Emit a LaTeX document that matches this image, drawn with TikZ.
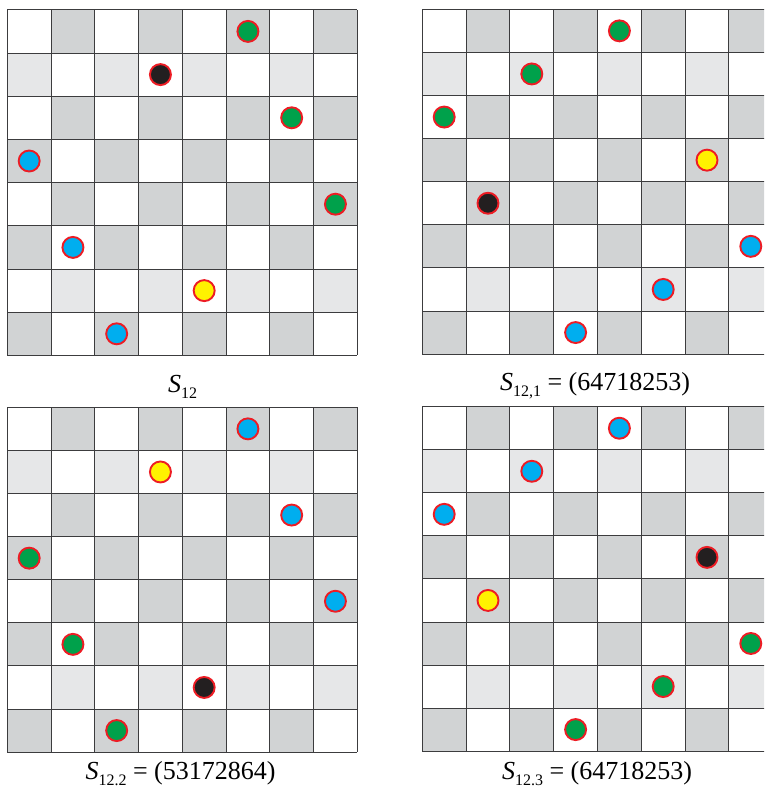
\documentclass[tikz,border=0pt]{standalone}
\usepackage{fontspec}
\setmainfont{Liberation Serif}
\usetikzlibrary{positioning}
\definecolor{sqdark}{RGB}{209,211,212}
\definecolor{sqlight}{RGB}{230,231,232}
\definecolor{gridgray}{RGB}{60,60,62}
\definecolor{ringred}{RGB}{237,28,36}
\definecolor{pgreen}{RGB}{0,161,75}
\definecolor{pblue}{RGB}{0,174,239}
\definecolor{pblack}{RGB}{35,31,32}
\definecolor{pyellow}{RGB}{255,242,0}

% one 8x8 board in cell units, shading first, then the grid lines
\newcommand{\chessboard}{%
  \foreach \r in {0,...,7}
    \foreach \c in {0,...,7} {
      \pgfmathtruncatemacro\odd{mod(\r+\c,2)}
      \ifnum\odd=1
        \ifnum\r=1 \fill[sqlight] (\c,\r) rectangle ++(1,1);
        \else\ifnum\r=6 \fill[sqlight] (\c,\r) rectangle ++(1,1);
        \else \fill[sqdark] (\c,\r) rectangle ++(1,1);
        \fi\fi
      \fi
    }
  \foreach \k in {0,...,8} {
    \draw[gridline] (\k,0) -- (\k,8);
    \draw[gridline] (0,\k) -- (8,\k);
  }
}
\newcommand{\subs}[1]{\raisebox{-6pt}{\fontsize{16}{16}\selectfont #1}}

\begin{document}
\begin{tikzpicture}[x=1pt, y=-1pt,
  gridline/.style={draw=gridgray, line width=0.9pt},
  piece/.style={circle, draw=ringred, line width=1.9pt, minimum size=21pt, inner sep=0pt},
  lbl/.style={font=\fontsize{26}{26}\selectfont, anchor=base}
]
\useasboundingbox (0,0) rectangle (764,787);
\clip (0,0) rectangle (764,787);

% S_12
\begin{scope}[shift={(7.3,9.8)}, x=43.75pt, y=-43.2pt]
  \chessboard
  \foreach \c/\col [count=\r from 0] in {5/pgreen, 3/pblack, 6/pgreen, 0/pblue, 7/pgreen, 1/pblue, 4/pyellow, 2/pblue}
    \node[piece, fill=\col] (a\r) at (\c+0.5,\r+0.5) {};
\end{scope}

% S_12,1
\begin{scope}[shift={(422.3,9.3)}, x=43.8pt, y=-43.1pt]
  \chessboard
  \foreach \c/\col [count=\r from 0] in {4/pgreen, 2/pgreen, 0/pgreen, 6/pyellow, 1/pblack, 7/pblue, 5/pblue, 3/pblue}
    \node[piece, fill=\col] (b\r) at (\c+0.5,\r+0.5) {};
\end{scope}

% S_12.2
\begin{scope}[shift={(7.3,407.3)}, x=43.75pt, y=-43.1pt]
  \chessboard
  \foreach \c/\col [count=\r from 0] in {5/pblue, 3/pyellow, 6/pblue, 0/pgreen, 7/pblue, 1/pgreen, 4/pblack, 2/pgreen}
    \node[piece, fill=\col] (c\r) at (\c+0.5,\r+0.5) {};
\end{scope}

% S_12.3
\begin{scope}[shift={(422.3,406.7)}, x=43.8pt, y=-43.05pt]
  \chessboard
  \foreach \c/\col [count=\r from 0] in {4/pblue, 2/pblue, 0/pblue, 6/pblack, 1/pyellow, 7/pgreen, 5/pgreen, 3/pgreen}
    \node[piece, fill=\col] (d\r) at (\c+0.5,\r+0.5) {};
\end{scope}

\node[lbl] (labela) at (182.5,392) {\textit{S}\subs{12}};
\node[lbl] (labelb) at (595,390) {\textit{S}\subs{12,1} = (64718253)};
\node[lbl] (labelc) at (180.5,779) {\textit{S}\subs{12.2} = (53172864)};
\node[lbl] (labeld) at (597,779) {\textit{S}\subs{12.3} = (64718253)};
\end{tikzpicture}
\end{document}
